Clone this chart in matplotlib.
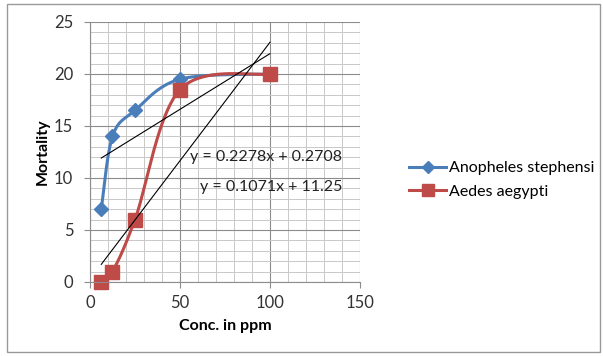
import numpy as np
import matplotlib
matplotlib.use("Agg")
import matplotlib.pyplot as plt
from matplotlib.patches import Rectangle

plt.rcParams['font.family'] = ['Lato', 'DejaVu Sans']

# data
conc = [6.25, 12.5, 25, 50, 100]
anopheles = [7, 14, 16.5, 19.5, 20]
aedes = [0, 1, 6, 18.5, 20]

trend_anopheles = (0.1071, 11.25)
trend_aedes = (0.2278, 0.2708)
eq_labels = ["y = 0.2278x + 0.2708", "y = 0.1071x + 11.25"]

x_ticks = [0, 50, 100, 150]
y_ticks = [0, 5, 10, 15, 20, 25]

BLUE = '#4A7EBB'
RED = '#BE4B48'


def smooth(xs, ys, n=40, t=0.5):
    # Catmull-Rom like smoothing, similar to Excel's "smoothed line"
    xs = np.asarray(xs, float)
    ys = np.asarray(ys, float)
    px = np.concatenate([[xs[0]], xs, [xs[-1]]])
    py = np.concatenate([[ys[0]], ys, [ys[-1]]])
    ox, oy = [], []
    for i in range(1, len(px) - 2):
        p0 = np.array([px[i - 1], py[i - 1]])
        p1 = np.array([px[i], py[i]])
        p2 = np.array([px[i + 1], py[i + 1]])
        p3 = np.array([px[i + 2], py[i + 2]])
        c1 = p1 + (p2 - p0) * t / 3
        c2 = p2 - (p3 - p1) * t / 3
        s = np.linspace(0, 1, n)[:, None]
        b = ((1 - s) ** 3) * p1 + 3 * ((1 - s) ** 2) * s * c1 \
            + 3 * (1 - s) * s ** 2 * c2 + s ** 3 * p2
        ox.extend(b[:, 0])
        oy.extend(b[:, 1])
    return ox, oy


fig = plt.figure(figsize=(6.03, 3.56), dpi=100)
fig.patches.append(Rectangle((7 / 603, 4 / 356), 593 / 603, 348 / 356,
                             transform=fig.transFigure, fill=False,
                             edgecolor='#9a9a9a', linewidth=1.0))

ax = fig.add_axes([90 / 603, 74 / 356, 270 / 603, 260 / 356])
ax.set_xlim(0, 150)
ax.set_ylim(0, 25)
ax.set_xticks(x_ticks)
ax.set_yticks(y_ticks)
ax.set_xticks(np.arange(0, 151, 10), minor=True)
ax.set_yticks(np.arange(0, 26, 1), minor=True)
ax.grid(which='major', color='#8c8c8c', linewidth=0.8)
ax.grid(which='minor', color='#c8c8c8', linewidth=0.7)
ax.set_axisbelow(True)
for sp in ['top', 'right']:
    ax.spines[sp].set_visible(False)
for sp in ['left', 'bottom']:
    ax.spines[sp].set_color('#8c8c8c')
ax.tick_params(which='major', length=4, color='#8c8c8c', labelsize=12,
               labelcolor='#333333')
ax.tick_params(which='minor', length=0)
ax.tick_params(axis='x', pad=5)
ax.tick_params(axis='y', pad=8)

sx, sy = smooth(conc, anopheles)
ax.plot(sx, sy, color=BLUE, linewidth=2.2, clip_on=False)
ax.plot(conc, anopheles, linestyle='none', marker='D', markersize=7,
        color=BLUE, clip_on=False)
sx, sy = smooth(conc, aedes)
ax.plot(sx, sy, color=RED, linewidth=2.2, clip_on=False)
ax.plot(conc, aedes, linestyle='none', marker='s', markersize=10.5,
        color=RED, clip_on=False)

tx = np.array([conc[0], conc[-1]])
for m, b in (trend_anopheles, trend_aedes):
    ax.plot(tx, m * tx + b, color='black', linewidth=0.8)

ax.text(55.5, 12.0, eq_labels[0], fontsize=11.5, va='center', color='#222222')
ax.text(61, 9.1, eq_labels[1], fontsize=11.5, va='center', color='#222222')

ax.set_xlabel('Conc. in ppm', fontsize=11.5, fontweight='bold', labelpad=6)
ax.set_ylabel('Mortality', fontsize=11.5, fontweight='bold', labelpad=3)

# legend
fig.legend(handles=[
    plt.Line2D([], [], color=BLUE, linewidth=2.2, marker='D', markersize=6),
    plt.Line2D([], [], color=RED, linewidth=2.2, marker='s', markersize=8)],
    labels=['Anopheles stephensi', 'Aedes aegypti'],
    loc='center left', bbox_to_anchor=(395 / 603, 1 - 180 / 356),
    frameon=False, fontsize=11.5, handlelength=2.3, handletextpad=0.2,
    labelspacing=0.6)

fig.savefig('out.png', dpi=100)
